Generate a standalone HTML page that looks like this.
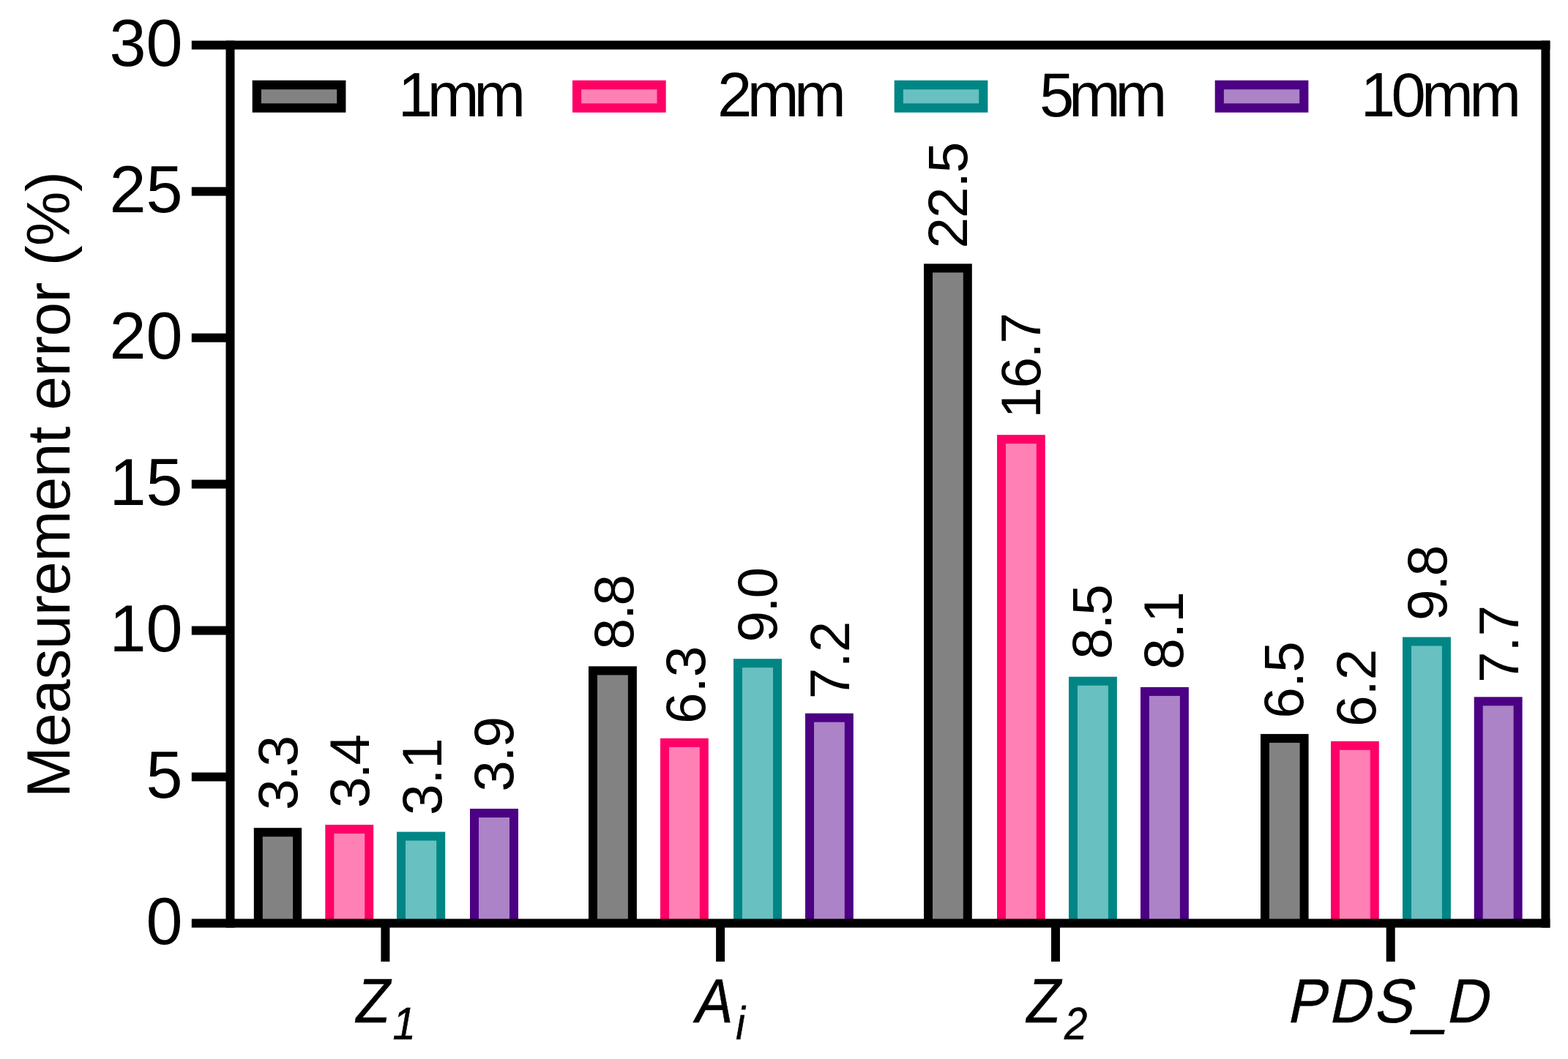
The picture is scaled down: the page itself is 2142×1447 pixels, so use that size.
<!DOCTYPE html>
<html lang="en"><head><meta charset="utf-8"><title>Measurement error (%)</title>
<style>html,body{margin:0;padding:0;background:#fff}body{width:2142px;height:1447px;overflow:hidden}svg{display:block}text{font-family:"Liberation Sans",sans-serif;fill:#000;font-kerning:none;white-space:pre}.it{font-style:italic}</style>
</head><body>
<svg width="2142" height="1447" viewBox="0 0 2142 1447">
<rect width="2142" height="1447" fill="#fff"/>
<g id="bars">
<rect x="346.8" y="1131.2" width="65.3" height="130.3" fill="#000000"/>
<rect x="358.8" y="1143.2" width="41.3" height="118.3" fill="#828282"/>
<rect x="444.3" y="1126.9" width="65.9" height="134.6" fill="#ff0066"/>
<rect x="456.3" y="1138.9" width="41.9" height="122.6" fill="#ff80b4"/>
<rect x="542.0" y="1136.6" width="66.2" height="124.9" fill="#008585"/>
<rect x="554.0" y="1148.6" width="42.2" height="112.9" fill="#68c0c0"/>
<rect x="642.0" y="1105.0" width="66.0" height="156.5" fill="#4c0084"/>
<rect x="654.0" y="1117.0" width="42.0" height="144.5" fill="#ab83c6"/>
<rect x="804.0" y="910.4" width="65.9" height="351.1" fill="#000000"/>
<rect x="816.0" y="922.4" width="41.9" height="339.1" fill="#828282"/>
<rect x="902.0" y="1008.8" width="65.8" height="252.7" fill="#ff0066"/>
<rect x="914.0" y="1020.8" width="41.8" height="240.7" fill="#ff80b4"/>
<rect x="1002.0" y="900.2" width="66.0" height="361.3" fill="#008585"/>
<rect x="1014.0" y="912.2" width="42.0" height="349.3" fill="#68c0c0"/>
<rect x="1100.0" y="974.7" width="65.8" height="286.8" fill="#4c0084"/>
<rect x="1112.0" y="986.7" width="41.8" height="274.8" fill="#ab83c6"/>
<rect x="1262.0" y="360.4" width="65.8" height="901.1" fill="#000000"/>
<rect x="1274.0" y="372.4" width="41.8" height="889.1" fill="#828282"/>
<rect x="1362.0" y="594.2" width="65.8" height="667.3" fill="#ff0066"/>
<rect x="1374.0" y="606.2" width="41.8" height="655.3" fill="#ff80b4"/>
<rect x="1460.0" y="924.7" width="65.9" height="336.8" fill="#008585"/>
<rect x="1472.0" y="936.7" width="41.9" height="324.8" fill="#68c0c0"/>
<rect x="1558.0" y="938.9" width="65.9" height="322.6" fill="#4c0084"/>
<rect x="1570.0" y="950.9" width="41.9" height="310.6" fill="#ab83c6"/>
<rect x="1722.0" y="1002.9" width="65.6" height="258.6" fill="#000000"/>
<rect x="1734.0" y="1014.9" width="41.6" height="246.6" fill="#828282"/>
<rect x="1818.0" y="1012.8" width="65.8" height="248.7" fill="#ff0066"/>
<rect x="1830.0" y="1024.8" width="41.8" height="236.7" fill="#ff80b4"/>
<rect x="1916.0" y="870.5" width="65.9" height="391.0" fill="#008585"/>
<rect x="1928.0" y="882.5" width="41.9" height="379.0" fill="#68c0c0"/>
<rect x="2013.7" y="952.3" width="65.9" height="309.2" fill="#4c0084"/>
<rect x="2025.7" y="964.3" width="41.9" height="297.2" fill="#ab83c6"/>
</g>
<g id="axes">
<rect x="261.80" y="55.60" width="1855.60" height="12.00" fill="#000"/>
<rect x="261.80" y="1255.50" width="1855.60" height="12.00" fill="#000"/>
<rect x="308.50" y="55.60" width="12.00" height="1211.90" fill="#000"/>
<rect x="2105.40" y="55.60" width="12.00" height="1211.90" fill="#000"/>
<rect x="261.80" y="1055.52" width="52.70" height="12.00" fill="#000"/>
<rect x="261.80" y="855.53" width="52.70" height="12.00" fill="#000"/>
<rect x="261.80" y="655.55" width="52.70" height="12.00" fill="#000"/>
<rect x="261.80" y="455.57" width="52.70" height="12.00" fill="#000"/>
<rect x="261.80" y="255.58" width="52.70" height="12.00" fill="#000"/>
<rect x="520.40" y="1261.50" width="12.00" height="52.40" fill="#000"/>
<rect x="978.10" y="1261.50" width="12.00" height="52.40" fill="#000"/>
<rect x="1436.00" y="1261.50" width="12.00" height="52.40" fill="#000"/>
<rect x="1893.70" y="1261.50" width="12.00" height="52.40" fill="#000"/>
</g>
<g id="y-tick-labels">
<text x="249.6" y="1289.6" font-size="90.0" text-anchor="end">0</text>
<text x="249.6" y="1089.6" font-size="90.0" text-anchor="end">5</text>
<text x="249.6" y="889.6" font-size="90.0" text-anchor="end">10</text>
<text x="249.6" y="689.6" font-size="90.0" text-anchor="end">15</text>
<text x="249.6" y="489.7" font-size="90.0" text-anchor="end">20</text>
<text x="249.6" y="289.7" font-size="90.0" text-anchor="end">25</text>
<text x="249.6" y="89.7" font-size="90.0" text-anchor="end">30</text>
</g>
<g id="y-axis-title">
<text transform="translate(95.0,1090.1) rotate(-90)" font-size="83.8" letter-spacing="-0.50">Measurement error (%)</text>
</g>
<g id="legend">
<rect x="344.7" y="109.8" width="127.7" height="43.9" fill="#000000"/>
<rect x="356.9" y="122.2" width="103.3" height="19.1" fill="#828282"/>
<text x="543.7" y="159.0" font-size="85.0" letter-spacing="-7.30">1mm</text>
<rect x="782.0" y="109.8" width="127.7" height="43.9" fill="#ff0066"/>
<rect x="794.2" y="122.2" width="103.3" height="19.1" fill="#ff80b4"/>
<text x="980.0" y="159.0" font-size="85.0" letter-spacing="-6.60">2mm</text>
<rect x="1221.7" y="109.8" width="127.7" height="43.9" fill="#008585"/>
<rect x="1233.9" y="122.2" width="103.3" height="19.1" fill="#68c0c0"/>
<text x="1420.1" y="159.0" font-size="85.0" letter-spacing="-7.39">5mm</text>
<rect x="1659.7" y="109.8" width="127.7" height="43.9" fill="#4c0084"/>
<rect x="1671.9" y="122.2" width="103.3" height="19.1" fill="#ab83c6"/>
<text x="1858.8" y="159.0" font-size="85.0" letter-spacing="-5.66">10mm</text>
</g>
<g id="value-labels">
<text transform="translate(406.4,1106.9) rotate(-90)" font-size="76.5" letter-spacing="-2.19">3.3</text>
<text transform="translate(504.4,1104.1) rotate(-90)" font-size="76.5" letter-spacing="-2.55">3.4</text>
<text transform="translate(602.5,1114.0) rotate(-90)" font-size="76.5" letter-spacing="-0.29">3.1</text>
<text transform="translate(700.5,1081.7) rotate(-90)" font-size="76.5" letter-spacing="-1.85">3.9</text>
<text transform="translate(864.5,887.4) rotate(-90)" font-size="76.5" letter-spacing="-2.00">8.8</text>
<text transform="translate(962.6,988.9) rotate(-90)" font-size="76.5" letter-spacing="-0.10">6.3</text>
<text transform="translate(1061.2,877.5) rotate(-90)" font-size="76.5" letter-spacing="-1.84">9.0</text>
<text transform="translate(1159.6,955.3) rotate(-90)" font-size="76.5" letter-spacing="0.16">7.2</text>
<text transform="translate(1321.3,339.5) rotate(-90)" font-size="76.5" letter-spacing="-1.01">22.5</text>
<text transform="translate(1420.7,571.4) rotate(-90)" font-size="76.5" letter-spacing="-1.56">16.7</text>
<text transform="translate(1518.3,900.8) rotate(-90)" font-size="76.5" letter-spacing="-1.85">8.5</text>
<text transform="translate(1616.3,914.8) rotate(-90)" font-size="76.5" letter-spacing="0.11">8.1</text>
<text transform="translate(1779.7,981.7) rotate(-90)" font-size="76.5" letter-spacing="-0.37">6.5</text>
<text transform="translate(1878.7,992.9) rotate(-90)" font-size="76.5" letter-spacing="-0.06">6.2</text>
<text transform="translate(1975.5,848.1) rotate(-90)" font-size="76.5" letter-spacing="-1.52">9.8</text>
<text transform="translate(2073.6,933.1) rotate(-90)" font-size="76.5" letter-spacing="-0.14">7.7</text>
</g>
<g id="x-tick-labels">
<text class="it" transform="matrix(0.9150 0 0 1.0200 0 1397.3)" font-size="83.3" stroke="#000" stroke-width="0.6" x="531.7" y="0">Z<tspan x="586.3" y="22.2" font-size="61.5">1</tspan></text>
<text class="it" transform="matrix(0.9150 0 0 1.0200 0 1397.3)" font-size="83.3" stroke="#000" stroke-width="0.6" x="1038.9" y="0">A<tspan x="1098.6" y="22.2" font-size="61.5">i</tspan></text>
<text class="it" transform="matrix(0.9150 0 0 1.0200 0 1397.3)" font-size="83.3" stroke="#000" stroke-width="0.6" x="1532.8" y="0">Z<tspan x="1589.2" y="22.2" font-size="61.5">2</tspan></text>
<text transform="matrix(0.9500 0 -0.2168 1.0200 0 1397.3)" font-size="83.3" stroke="#000" stroke-width="0.5" x="1849.5 1909.5 1974.2 2032.4 2078.1" y="0 0 0 -1.3 0">PDS_D</text>
</g>
</svg>
</body></html>
